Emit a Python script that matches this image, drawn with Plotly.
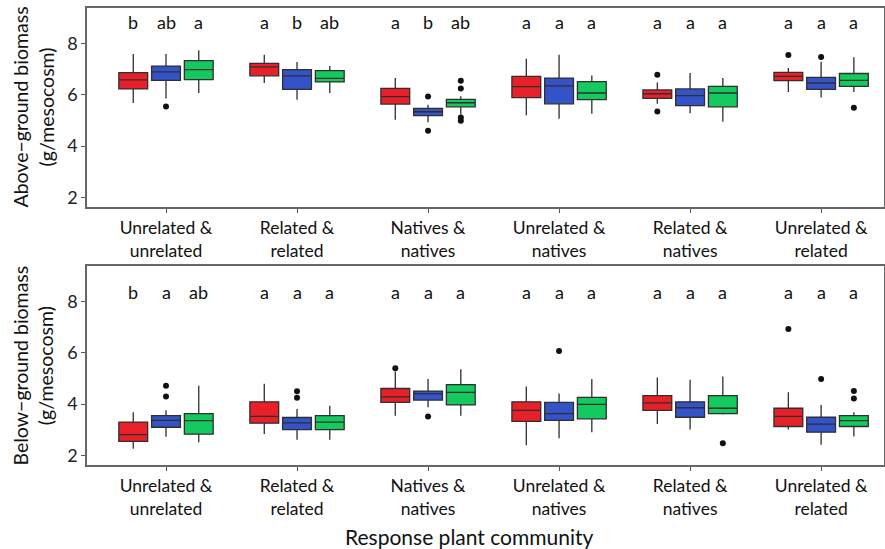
import plotly.graph_objects as go
from plotly.subplots import make_subplots

categories = ["Unrelated &<br>unrelated", "Related &<br>related", "Natives &<br>natives",
              "Unrelated &<br>natives", "Related &<br>natives", "Unrelated &<br>related"]
series_names = ["Red", "Blue", "Green"]

# Above-ground biomass (g/mesocosm)
above_red_lo = [5.68, 6.46, 5.03, 5.20, 5.65, 6.11]
above_red_q1 = [6.23, 6.74, 5.64, 5.89, 5.86, 6.55]
above_red_med = [6.58, 7.09, 5.93, 6.32, 6.04, 6.72]
above_red_q3 = [6.86, 7.22, 6.25, 6.72, 6.19, 6.87]
above_red_hi = [7.59, 7.56, 6.65, 7.40, 6.48, 7.04]
above_red_out = [[], [], [], [], [6.78, 5.35], [7.55]]

above_blue_lo = [5.86, 5.81, 4.93, 5.07, 5.28, 5.89]
above_blue_q1 = [6.56, 6.21, 5.19, 5.65, 5.58, 6.21]
above_blue_med = [6.89, 6.74, 5.34, 6.35, 5.97, 6.46]
above_blue_q3 = [7.12, 6.98, 5.47, 6.65, 6.23, 6.68]
above_blue_hi = [7.59, 7.28, 5.61, 7.56, 6.85, 7.29]
above_blue_out = [[5.54], [], [5.93, 4.60], [], [], [7.47]]

above_green_lo = [6.07, 6.07, 5.23, 5.26, 4.95, 6.11]
above_green_q1 = [6.59, 6.50, 5.53, 5.81, 5.53, 6.33]
above_green_med = [6.98, 6.64, 5.69, 6.07, 6.07, 6.56]
above_green_q3 = [7.33, 6.94, 5.82, 6.51, 6.33, 6.83]
above_green_hi = [7.73, 7.12, 5.94, 6.75, 6.65, 7.46]
above_green_out = [[], [], [6.55, 6.25, 5.12, 4.99], [], [], [5.50]]

above_letters_red = ["b", "a", "a", "a", "a", "a"]
above_letters_blue = ["ab", "b", "b", "a", "a", "a"]
above_letters_green = ["a", "ab", "ab", "a", "a", "a"]

# Below-ground biomass (g/mesocosm)
below_red_lo = [2.26, 2.84, 3.55, 2.40, 3.23, 3.01]
below_red_q1 = [2.55, 3.26, 4.07, 3.33, 3.76, 3.13]
below_red_med = [2.81, 3.52, 4.28, 3.76, 4.05, 3.52]
below_red_q3 = [3.30, 4.09, 4.61, 4.09, 4.33, 3.84]
below_red_hi = [3.68, 4.79, 5.27, 4.69, 5.04, 4.46]
below_red_out = [[], [], [5.40], [], [], [6.93]]

below_blue_lo = [2.73, 2.61, 3.88, 2.67, 3.01, 2.42]
below_blue_q1 = [3.10, 3.01, 4.16, 3.37, 3.49, 2.91]
below_blue_med = [3.37, 3.27, 4.41, 3.63, 3.86, 3.22]
below_blue_q3 = [3.55, 3.48, 4.51, 4.07, 4.09, 3.49]
below_blue_hi = [3.76, 3.81, 4.98, 4.41, 4.95, 3.97]
below_blue_out = [[4.72, 4.30], [4.50, 4.25], [3.52], [6.07], [], [4.98]]

below_green_lo = [2.52, 2.61, 3.55, 2.91, 3.60, 2.74]
below_green_q1 = [2.83, 3.01, 3.97, 3.43, 3.63, 3.13]
below_green_med = [3.36, 3.30, 4.46, 3.99, 3.84, 3.36]
below_green_q3 = [3.63, 3.55, 4.76, 4.26, 4.33, 3.55]
below_green_hi = [4.72, 3.94, 5.36, 4.98, 5.08, 3.68]
below_green_out = [[], [], [], [], [2.48], [4.51, 4.22]]

below_letters_red = ["b", "a", "a", "a", "a", "a"]
below_letters_blue = ["a", "a", "a", "a", "a", "a"]
below_letters_green = ["ab", "a", "a", "a", "a", "a"]

y_ticks = [2, 4, 6, 8]

colors = ["#e8202a", "#3553c9", "#14c95e"]
offsets = [-0.25, 0.0, 0.25]
box_w = 0.22
FONT = "Lato, 'Open Sans', sans-serif"

panels = [
    dict(row=1,
         stats=[(above_red_lo, above_red_q1, above_red_med, above_red_q3, above_red_hi, above_red_out),
                (above_blue_lo, above_blue_q1, above_blue_med, above_blue_q3, above_blue_hi, above_blue_out),
                (above_green_lo, above_green_q1, above_green_med, above_green_q3, above_green_hi, above_green_out)],
         letters=[above_letters_red, above_letters_blue, above_letters_green],
         letter_y=8.82,
         title="Above−ground biomass<br>(g/mesocosm)"),
    dict(row=2,
         stats=[(below_red_lo, below_red_q1, below_red_med, below_red_q3, below_red_hi, below_red_out),
                (below_blue_lo, below_blue_q1, below_blue_med, below_blue_q3, below_blue_hi, below_blue_out),
                (below_green_lo, below_green_q1, below_green_med, below_green_q3, below_green_hi, below_green_out)],
         letters=[below_letters_red, below_letters_blue, below_letters_green],
         letter_y=8.38,
         title="Below−ground biomass<br>(g/mesocosm)"),
]

fig = make_subplots(rows=2, cols=1, vertical_spacing=0.129)

for p in panels:
    r = p["row"]
    xref = "x" if r == 1 else "x2"
    yref = "y" if r == 1 else "y2"
    for si, (lo, q1, med, q3, hi, out) in enumerate(p["stats"]):
        xs = [i + offsets[si] for i in range(len(categories))]
        fig.add_trace(go.Box(
            x=xs, lowerfence=lo, q1=q1, median=med, q3=q3, upperfence=hi,
            width=box_w, fillcolor=colors[si],
            line=dict(color="#2f2f2f", width=1.3),
            whiskerwidth=0, boxpoints=False, name=series_names[si],
            showlegend=False, hoverinfo="skip"), row=r, col=1)
        ox, oy = [], []
        for i, vals in enumerate(out):
            for v in vals:
                ox.append(xs[i])
                oy.append(v)
        fig.add_trace(go.Scatter(
            x=ox, y=oy, mode="markers",
            marker=dict(color="#111111", size=6),
            showlegend=False, hoverinfo="skip"), row=r, col=1)
        for i, txt in enumerate(p["letters"][si]):
            fig.add_annotation(x=xs[i], y=p["letter_y"], xref=xref, yref=yref,
                               text=txt, showarrow=False,
                               font=dict(family=FONT, size=18, color="#111111"))
    fig.add_annotation(x=0, y=0.5, xref="paper", yref=yref + " domain",
                       xanchor="center", yanchor="middle", xshift=-54, textangle=-90,
                       text=p["title"], showarrow=False,
                       font=dict(family=FONT, size=19.5, color="#111"))
    fig.update_yaxes(range=[1.63, 9.38], tickvals=y_ticks, ticks="outside", ticklen=4,
                     tickcolor="#555", showgrid=False, zeroline=False, automargin=False,
                     showline=True, linecolor="#666", linewidth=1.5, mirror=True,
                     tickfont=dict(family=FONT, size=18, color="#222"),
                     row=r, col=1)
    fig.update_xaxes(range=[-0.603, 5.48], tickvals=list(range(len(categories))),
                     ticktext=categories, ticks="outside", ticklen=4, tickcolor="#555",
                     showgrid=False, zeroline=False, automargin=False,
                     showline=True, linecolor="#666", linewidth=1.5, mirror=True,
                     tickfont=dict(family=FONT, size=17.5, color="#111"),
                     row=r, col=1)

fig.add_annotation(x=(469 - 87) / 797, y=0, xref="paper", yref="paper",
                   xanchor="center", yanchor="middle", yshift=-71,
                   text="Response plant community", showarrow=False,
                   font=dict(family=FONT, size=21, color="#111"))

fig.update_layout(
    width=885, height=549,
    margin=dict(l=87, r=1, t=8, b=84),
    paper_bgcolor="white", plot_bgcolor="white",
    font=dict(family=FONT),
    showlegend=False,
)

fig.write_html("out.html", config={"displayModeBar": False},
               post_script="document.body.style.margin='0';document.body.style.overflow='hidden';")
